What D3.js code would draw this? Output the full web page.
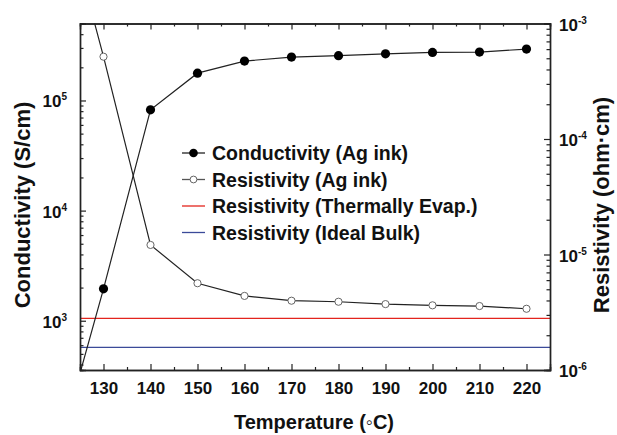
<!DOCTYPE html>
<html lang="en">
<head>
<meta charset="utf-8">
<script src="https://d3js.org/d3.v7.min.js"></script>
<title>Conductivity vs Temperature</title>
<style>
  body { margin: 0; background: #fff; }
  svg text { font-family: "Liberation Sans", Arial, sans-serif; font-weight: bold; fill: #111; }
</style>
</head>
<body>
<div id="chart"></div>
<script>
// temperatures (degC); 120 lies left of the axis and is only seen as the clipped line end
const temps = [120, 130, 140, 150, 160, 170, 180, 190, 200, 210, 220];
const conductivity = [57, 1950, 82300, 177000, 228000, 248000, 255000, 265000, 273000, 275000, 293000];
const resistivity = [0.0175, 5.16e-4, 1.21e-5, 5.64e-6, 4.38e-6, 3.98e-6, 3.90e-6, 3.72e-6, 3.63e-6, 3.58e-6, 3.39e-6];
const rhoEvap = 2.8e-6;
const rhoBulk = 1.57e-6;

const xTicks = [130, 140, 150, 160, 170, 180, 190, 200, 210, 220];
const leftTicks = [1e3, 1e4, 1e5];
const rightTicks = [1e-6, 1e-5, 1e-4, 1e-3];
const legendLabels = ["Conductivity (Ag ink)", "Resistivity (Ag ink)", "Resistivity (Thermally Evap.)", "Resistivity (Ideal Bulk)"];

const W = 617, H = 435;
const L = 80, R = 550, T = 23.5, B = 370;

const svg = d3.select("#chart").append("svg")
  .attr("width", W).attr("height", H);

const x = d3.scaleLinear().domain([125, 225]).range([L, R]);
const yL = d3.scaleLog().domain([357, 5e5]).range([B, T]);
const yR = d3.scaleLog().domain([1e-6, 1e-3]).range([B, T]);

svg.append("clipPath").attr("id", "plot")
  .append("rect").attr("x", L).attr("y", T).attr("width", R - L).attr("height", B - T);

const plot = svg.append("g").attr("clip-path", "url(#plot)");

// horizontal reference lines
plot.append("line")
  .attr("x1", L).attr("x2", R).attr("y1", yR(rhoEvap)).attr("y2", yR(rhoEvap))
  .attr("stroke", "#e3241d").attr("stroke-width", 1.4);
plot.append("line")
  .attr("x1", L).attr("x2", R).attr("y1", yR(rhoBulk)).attr("y2", yR(rhoBulk))
  .attr("stroke", "#3b4a99").attr("stroke-width", 1.4);

const condPts = temps.map((t, i) => [t, conductivity[i]]);
const resPts = temps.map((t, i) => [t, resistivity[i]]);

plot.append("path")
  .attr("d", d3.line().x(d => x(d[0])).y(d => yL(d[1]))(condPts))
  .attr("fill", "none").attr("stroke", "#222").attr("stroke-width", 1.2);
plot.append("path")
  .attr("d", d3.line().x(d => x(d[0])).y(d => yR(d[1]))(resPts))
  .attr("fill", "none").attr("stroke", "#222").attr("stroke-width", 1.2);

plot.selectAll(".cond").data(condPts).enter().append("circle")
  .attr("class", "cond")
  .attr("cx", d => x(d[0])).attr("cy", d => yL(d[1])).attr("r", 4.6)
  .attr("fill", "#000");
plot.selectAll(".res").data(resPts).enter().append("circle")
  .attr("class", "res")
  .attr("cx", d => x(d[0])).attr("cy", d => yR(d[1])).attr("r", 3.6)
  .attr("fill", "#fff").attr("stroke", "#666").attr("stroke-width", 1);

// axes, ticks point inward
function minorLog(lo, hi) {
  const out = [];
  for (let e = Math.floor(Math.log10(lo)); e <= Math.ceil(Math.log10(hi)); e++)
    for (let m = 2; m <= 9; m++) {
      const v = m * Math.pow(10, e);
      if (v >= lo && v <= hi) out.push(v);
    }
  return out;
}
const xMinor = d3.range(125, 226, 5).filter(v => v % 10 !== 0);

function styleAxis(g) {
  g.selectAll(".domain").attr("stroke", "#222").attr("stroke-width", 1.4);
  g.selectAll(".tick line").attr("stroke", "#222").attr("stroke-width", 1.2);
  g.selectAll(".tick text").style("font-size", "17px").attr("fill", "#111");
}

svg.append("g").attr("transform", `translate(0,${B})`)
  .call(d3.axisBottom(x).tickValues(xTicks).tickSize(-6).tickPadding(12).tickFormat(d3.format("d")))
  .call(styleAxis);
svg.append("g").attr("transform", `translate(0,${B})`)
  .call(d3.axisBottom(x).tickValues(xMinor).tickSize(-3).tickFormat(""))
  .call(styleAxis);
svg.append("g").attr("transform", `translate(0,${T})`)
  .call(d3.axisTop(x).tickValues(xTicks).tickSize(-6).tickFormat(""))
  .call(styleAxis);
svg.append("g").attr("transform", `translate(0,${T})`)
  .call(d3.axisTop(x).tickValues(xMinor).tickSize(-3).tickFormat(""))
  .call(styleAxis);

svg.append("g").attr("transform", `translate(${L},0)`)
  .call(d3.axisLeft(yL).tickValues(leftTicks).tickSize(-6).tickFormat(""))
  .call(styleAxis);
svg.append("g").attr("transform", `translate(${L},0)`)
  .call(d3.axisLeft(yL).tickValues(minorLog(357, 5e5)).tickSize(-3.5).tickFormat(""))
  .call(styleAxis);
svg.append("g").attr("transform", `translate(${R},0)`)
  .call(d3.axisRight(yR).tickValues(rightTicks).tickSize(-6).tickFormat(""))
  .call(styleAxis);
svg.append("g").attr("transform", `translate(${R},0)`)
  .call(d3.axisRight(yR).tickValues(minorLog(1e-6, 1e-3)).tickSize(-3.5).tickFormat(""))
  .call(styleAxis);

// power-of-ten labels
function powLabel(sel, v) {
  const e = Math.round(Math.log10(v));
  sel.append("tspan").text("10").style("font-size", "17px");
  sel.append("tspan").text(e).style("font-size", "10px").attr("dy", "-0.7em");
}
leftTicks.forEach(v => {
  svg.append("text").attr("x", 67).attr("y", yL(v) + 7)
    .attr("text-anchor", "end").call(powLabel, v);
});
rightTicks.forEach(v => {
  svg.append("text").attr("x", 559).attr("y", yR(v) + 7)
    .attr("text-anchor", "start").call(powLabel, v);
});

// axis titles
svg.append("text")
  .attr("transform", "translate(30,205) rotate(-90)")
  .attr("text-anchor", "middle").style("font-size", "22px")
  .text("Conductivity (S/cm)");
svg.append("text")
  .attr("transform", "translate(609,205) rotate(-90)")
  .attr("text-anchor", "middle").style("font-size", "22px")
  .text("Resistivity (ohm\u00b7cm)");
svg.append("text")
  .attr("x", 314).attr("y", 429)
  .attr("text-anchor", "middle").style("font-size", "20px")
  .text("Temperature (\u25e6C)");

// legend
const legend = svg.append("g");
const legY = d3.scaleLinear().domain([0, 3]).range([153, 232.5]);
const legColors = ["#222", "#555", "#e3241d", "#3b4a99"];
legendLabels.forEach((lab, i) => {
  const yy = legY(i);
  legend.append("line").attr("x1", 182).attr("x2", 205).attr("y1", yy).attr("y2", yy)
    .attr("stroke", legColors[i]).attr("stroke-width", 1.3);
  if (i === 0) legend.append("circle").attr("cx", 193.5).attr("cy", yy).attr("r", 4.3).attr("fill", "#000");
  if (i === 1) legend.append("circle").attr("cx", 193.5).attr("cy", yy).attr("r", 3.4)
    .attr("fill", "#fff").attr("stroke", "#666");
  legend.append("text").attr("x", 212).attr("y", yy + 7).style("font-size", "19.5px").text(lab);
});
</script>
</body>
</html>
